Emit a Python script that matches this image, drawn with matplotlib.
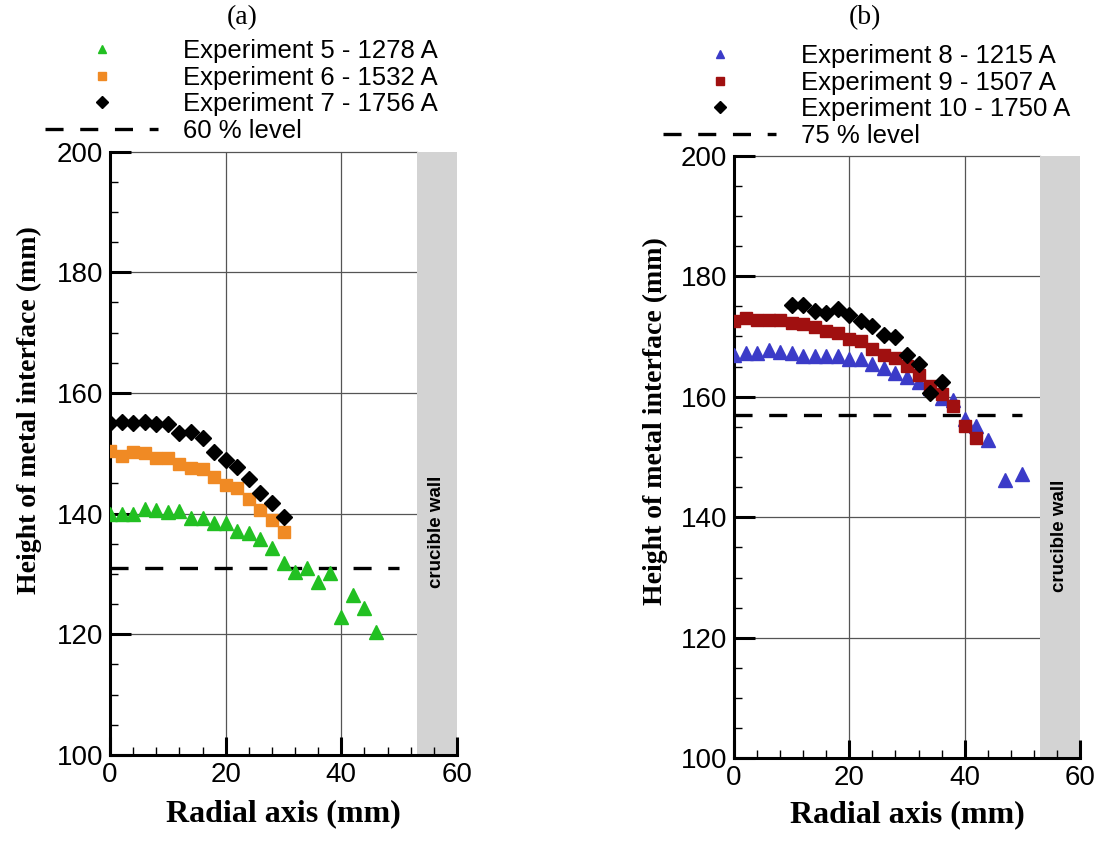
import matplotlib
matplotlib.use("Agg")
import matplotlib.pyplot as plt
from matplotlib.lines import Line2D
from matplotlib.ticker import MultipleLocator

plt.rcParams['lines.scale_dashes'] = False
SANS = 'Liberation Sans'
SERIF = 'Liberation Serif'

# panel (a)
x_exp5 = [0, 2, 4, 6, 8, 10, 12, 14, 16, 18, 20, 22, 24, 26, 28, 30, 32, 34, 36, 38, 40, 42, 44, 46]
y_exp5 = [139.9, 140.0, 139.9, 140.7, 140.6, 140.3, 140.4, 139.2, 139.2, 138.4, 138.5, 137.1,
          136.8, 135.8, 134.3, 131.9, 130.3, 131.0, 128.6, 130.2, 122.9, 126.6, 124.3, 120.4]
x_exp6 = [0, 2, 4, 6, 8, 10, 12, 14, 16, 18, 20, 22, 24, 26, 28, 30]
y_exp6 = [150.4, 149.6, 150.2, 150.0, 149.2, 149.2, 148.3, 147.5, 147.4, 146.0, 144.7, 144.2,
          142.4, 140.6, 139.0, 137.0]
x_exp7 = [0, 2, 4, 6, 8, 10, 12, 14, 16, 18, 20, 22, 24, 26, 28, 30]
y_exp7 = [155.0, 155.2, 155.0, 155.2, 154.8, 154.8, 153.4, 153.5, 152.5, 150.2, 148.9, 147.8,
          145.7, 143.5, 141.8, 139.4]
level_a = 131.0

# panel (b)
x_exp8 = [0, 2, 4, 6, 8, 10, 12, 14, 16, 18, 20, 22, 24, 26, 28, 30, 32, 34, 36, 38, 40, 42, 44, 47, 50]
y_exp8 = [166.9, 167.2, 167.3, 167.7, 167.4, 167.2, 166.7, 166.8, 166.7, 166.8, 166.2, 166.2,
          165.4, 164.8, 164.0, 163.2, 162.5, 161.5, 159.8, 159.5, 156.3, 155.2, 152.8, 146.1, 147.2]
x_exp9 = [0, 2, 4, 6, 8, 10, 12, 14, 16, 18, 20, 22, 24, 26, 28, 30, 32, 34, 36, 38, 40, 42]
y_exp9 = [172.5, 173.1, 172.7, 172.8, 172.7, 172.3, 172.0, 171.6, 170.9, 170.5, 169.5, 169.2,
          168.0, 167.0, 166.5, 165.1, 163.6, 161.8, 160.4, 158.4, 155.1, 153.1]
x_exp10 = [10, 12, 14, 16, 18, 20, 22, 24, 26, 28, 30, 32, 34, 36]
y_exp10 = [175.3, 175.3, 174.2, 173.9, 174.6, 173.5, 172.6, 171.7, 170.2, 169.9, 167.0, 165.4,
           160.7, 162.4]
level_b = 157.0

wall_start = 53
x_ticks = [0, 20, 40, 60]
y_ticks = [100, 120, 140, 160, 180, 200]

fig = plt.figure(figsize=(10.98, 8.43), dpi=100)
ax_a = fig.add_axes([0.1002, 0.1044, 0.3160, 0.7157])
ax_b = fig.add_axes([0.6685, 0.1005, 0.3151, 0.7148])


def setup(ax, ylab_pos, xlab_y):
    ax.set_xlim(0, 60)
    ax.set_ylim(100, 200)
    ax.axvspan(wall_start, 60, color='#d3d3d3', lw=0, zorder=1)
    for yv in y_ticks[1:]:
        ax.axhline(yv, xmax=wall_start / 60, color='#555555', lw=0.9, zorder=0.8, clip_on=False)
    for xv in x_ticks[1:-1]:
        ax.axvline(xv, color='#555555', lw=0.9, zorder=0.8)
    ax.text(56.5, 137, 'crucible wall', rotation=90, ha='center', va='center',
            fontsize=13.5, fontweight='bold', family=SANS, zorder=3)
    for s in ['top', 'right']:
        ax.spines[s].set_visible(False)
    for s in ['left', 'bottom']:
        ax.spines[s].set_linewidth(2.2)
    ax.set_xticks(x_ticks)
    ax.set_yticks(y_ticks)
    ax.xaxis.set_minor_locator(MultipleLocator(4))
    ax.yaxis.set_minor_locator(MultipleLocator(5))
    ax.tick_params(which='major', direction='in', length=13, width=2.2, labelsize=20, pad=5)
    ax.tick_params(which='minor', direction='in', length=6, width=1.0)
    ax.tick_params(axis='y', which='major', length=15)
    for lab in ax.get_xticklabels() + ax.get_yticklabels():
        lab.set_family(SANS)
    ax.set_xlabel('Radial axis (mm)', family=SERIF, fontweight='bold', fontsize=23)
    ax.set_ylabel('Height of metal interface (mm)', family=SERIF, fontweight='bold', fontsize=20)
    ax.yaxis.set_label_coords(*ylab_pos)
    ax.xaxis.set_label_coords(0.5, xlab_y)


setup(ax_a, (-0.196, 0.572), -0.073)
setup(ax_b, (-0.191, 0.56), -0.07)

dash = dict(color='black', lw=2.4, dashes=(13, 12))

ax_a.plot(x_exp5, y_exp5, '^', color='#22c022', ms=10, ls='none', zorder=4)
ax_a.plot(x_exp6, y_exp6, 's', color='#f08a24', ms=9, ls='none', zorder=4)
ax_a.plot(x_exp7, y_exp7, 'D', color='black', ms=8, ls='none', zorder=4)
ax_a.plot([0, 50], [level_a, level_a], zorder=3, **dash)

ax_b.plot(x_exp8, y_exp8, '^', color='#3b3bc8', ms=10, ls='none', zorder=4)
ax_b.plot(x_exp9, y_exp9, 's', color='#a01010', ms=9, ls='none', zorder=4)
ax_b.plot(x_exp10, y_exp10, 'D', color='black', ms=8, ls='none', zorder=4)
ax_b.plot([0, 50], [level_b, level_b], zorder=3, **dash)


def legend(labels, markers, colors, anchor):
    handles = [Line2D([], [], marker=m, color=c, ls='none', ms=6) for m, c in zip(markers, colors)]
    handles.append(Line2D([], [], **dash))
    fig.legend(handles, labels, loc='upper left', bbox_to_anchor=anchor, frameon=False,
               prop={'family': SANS, 'size': 18.5}, handlelength=4.4, handletextpad=0.97,
               labelspacing=0.1, borderpad=0, borderaxespad=0)


legend(['Experiment 5 - 1278 A', 'Experiment 6 - 1532 A', 'Experiment 7 - 1756 A', '60 % level'],
       ['^', 's', 'D'], ['#22c022', '#f08a24', 'black'], (45 / 1098, 1 - 39 / 843))
legend(['Experiment 8 - 1215 A', 'Experiment 9 - 1507 A', 'Experiment 10 - 1750 A', '75 % level'],
       ['^', 's', 'D'], ['#3b3bc8', '#a01010', 'black'], (663 / 1098, 1 - 44 / 843))

fig.text(242 / 1098, 1 - 18 / 843, '(a)', ha='center', va='center', family=SERIF, fontsize=20)
fig.text(865 / 1098, 1 - 18 / 843, '(b)', ha='center', va='center', family=SERIF, fontsize=20)

fig.savefig('out.png', dpi=100)
